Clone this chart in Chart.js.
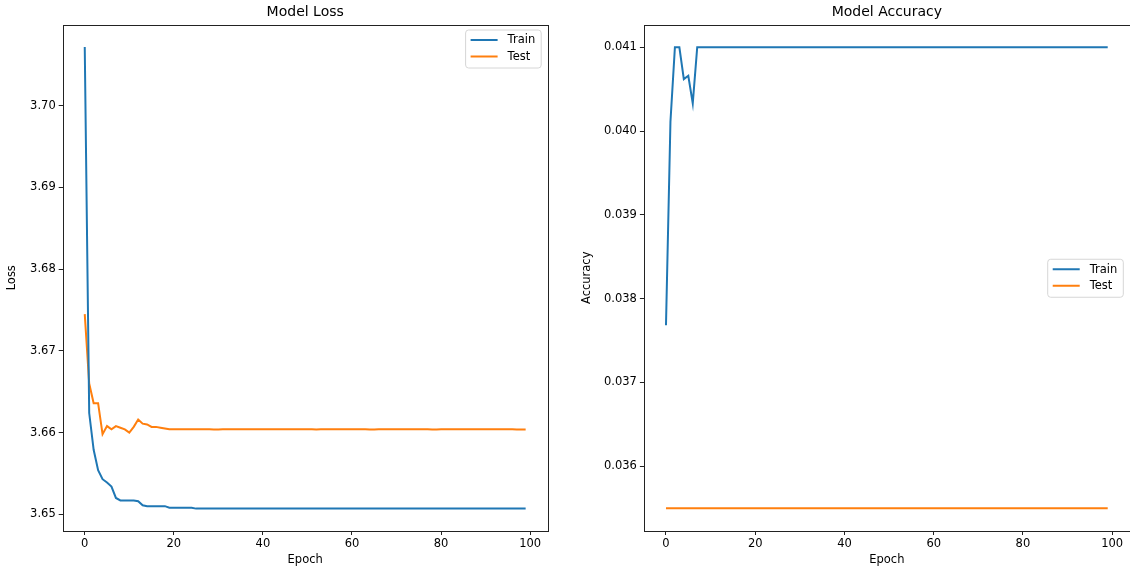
<!DOCTYPE html>
<html><head><meta charset="utf-8">
<script src="https://cdn.jsdelivr.net/npm/chart.js@4/dist/chart.umd.min.js"></script>
<style>
html,body{margin:0;padding:0;background:#fff;overflow:hidden;width:1130px;height:567px;position:relative;}
.box{position:absolute;top:0;height:567px;}
#b1{left:0;width:565px;}
#b2{left:565px;width:580px;}
</style></head><body>
<div class="box" id="b1"><canvas id="c1"></canvas></div>
<div class="box" id="b2"><canvas id="c2"></canvas></div>
<script>
const epochs = [0,1,2,3,4,5,6,7,8,9,10,11,12,13,14,15,16,17,18,19,20,21,22,23,24,25,26,27,28,29,30,31,32,33,34,35,36,37,38,39,40,41,42,43,44,45,46,47,48,49,50,51,52,53,54,55,56,57,58,59,60,61,62,63,64,65,66,67,68,69,70,71,72,73,74,75,76,77,78,79,80,81,82,83,84,85,86,87,88,89,90,91,92,93,94,95,96,97,98,99];
const xTicks = [0,20,40,60,80,100];
const lossTicks = [3.65,3.66,3.67,3.68,3.69,3.70];
const accTicks = [0.036,0.037,0.038,0.039,0.040,0.041];
const seriesNames = ['Train','Test'];
const trainLoss = [3.7072,3.6624,3.6579,3.6554,3.6543,3.6539,3.6534,3.6520,3.6517,3.6517,
 3.6517,3.6517,3.6516,3.6511,3.6510,3.6510,3.6510,3.6510,3.6510,3.6508,
 3.6508,3.6508,3.6508,3.6508,3.6508,3.6507,3.6507,3.6507,3.6507,3.6507,
 3.6507,3.6507,3.6507,3.6507,3.6507,3.6507,3.6507,3.6507,3.6507,3.6507,
 3.6507,3.6507,3.6507,3.6507,3.6507,3.6507,3.6507,3.6507,3.6507,3.6507,
 3.6507,3.6507,3.6507,3.6507,3.6507,3.6507,3.6507,3.6507,3.6507,3.6507,
 3.6507,3.6507,3.6507,3.6507,3.6507,3.6507,3.6507,3.6507,3.6507,3.6507,
 3.6507,3.6507,3.6507,3.6507,3.6507,3.6507,3.6507,3.6507,3.6507,3.6507,
 3.6507,3.6507,3.6507,3.6507,3.6507,3.6507,3.6507,3.6507,3.6507,3.6507,
 3.6507,3.6507,3.6507,3.6507,3.6507,3.6507,3.6507,3.6507,3.6507,3.6507];
const testLoss = [3.6745,3.6660,3.6636,3.6636,3.6598,3.6608,3.6604,3.6608,3.6606,3.6604,
 3.6600,3.6607,3.6616,3.6611,3.6610,3.6607,3.6607,3.6606,3.6605,3.6604,
 3.6604,3.6604,3.6604,3.6604,3.6604,3.6604,3.6604,3.6604,3.6604,3.66037,
 3.66037,3.6604,3.6604,3.6604,3.6604,3.6604,3.6604,3.6604,3.6604,3.6604,
 3.6604,3.6604,3.6604,3.6604,3.6604,3.6604,3.6604,3.6604,3.6604,3.6604,
 3.6604,3.6604,3.66037,3.6604,3.6604,3.6604,3.6604,3.6604,3.6604,3.6604,
 3.6604,3.6604,3.6604,3.6604,3.66037,3.66037,3.6604,3.6604,3.6604,3.6604,
 3.6604,3.6604,3.6604,3.6604,3.6604,3.6604,3.6604,3.6604,3.66037,3.66037,
 3.6604,3.6604,3.6604,3.6604,3.6604,3.6604,3.6604,3.6604,3.6604,3.6604,
 3.6604,3.6604,3.6604,3.6604,3.6604,3.6604,3.6604,3.66037,3.66037,3.66037];
const trainAcc = [0.03768,0.04011,0.04100,0.04100,0.04062,0.04066,0.04033,0.04100,0.04100,0.04100,
 0.04100,0.04100,0.04100,0.04100,0.04100,0.04100,0.04100,0.04100,0.04100,0.04100,
 0.04100,0.04100,0.04100,0.04100,0.04100,0.04100,0.04100,0.04100,0.04100,0.04100,
 0.04100,0.04100,0.04100,0.04100,0.04100,0.04100,0.04100,0.04100,0.04100,0.04100,
 0.04100,0.04100,0.04100,0.04100,0.04100,0.04100,0.04100,0.04100,0.04100,0.04100,
 0.04100,0.04100,0.04100,0.04100,0.04100,0.04100,0.04100,0.04100,0.04100,0.04100,
 0.04100,0.04100,0.04100,0.04100,0.04100,0.04100,0.04100,0.04100,0.04100,0.04100,
 0.04100,0.04100,0.04100,0.04100,0.04100,0.04100,0.04100,0.04100,0.04100,0.04100,
 0.04100,0.04100,0.04100,0.04100,0.04100,0.04100,0.04100,0.04100,0.04100,0.04100,
 0.04100,0.04100,0.04100,0.04100,0.04100,0.04100,0.04100,0.04100,0.04100,0.04100];
const testAcc = [0.035495,0.035495,0.035495,0.035495,0.035495,0.035495,0.035495,0.035495,0.035495,0.035495,
 0.035495,0.035495,0.035495,0.035495,0.035495,0.035495,0.035495,0.035495,0.035495,0.035495,
 0.035495,0.035495,0.035495,0.035495,0.035495,0.035495,0.035495,0.035495,0.035495,0.035495,
 0.035495,0.035495,0.035495,0.035495,0.035495,0.035495,0.035495,0.035495,0.035495,0.035495,
 0.035495,0.035495,0.035495,0.035495,0.035495,0.035495,0.035495,0.035495,0.035495,0.035495,
 0.035495,0.035495,0.035495,0.035495,0.035495,0.035495,0.035495,0.035495,0.035495,0.035495,
 0.035495,0.035495,0.035495,0.035495,0.035495,0.035495,0.035495,0.035495,0.035495,0.035495,
 0.035495,0.035495,0.035495,0.035495,0.035495,0.035495,0.035495,0.035495,0.035495,0.035495,
 0.035495,0.035495,0.035495,0.035495,0.035495,0.035495,0.035495,0.035495,0.035495,0.035495,
 0.035495,0.035495,0.035495,0.035495,0.035495,0.035495,0.035495,0.035495,0.035495,0.035495];

const BLUE = '#1f77b4', ORANGE = '#ff7f0e';
const FAM = '"DejaVu Sans", sans-serif';
const TICK_FS = 11.5, LABEL_FS = 11.5, TITLE_FS = 14;

const mplPlugin = {
  id: 'mpl',
  afterDatasetsDraw(chart) {
    const ctx = chart.ctx, a = chart.chartArea;
    const o = chart.options.plugins.mpl;
    ctx.save();
    // axes frame
    ctx.strokeStyle = '#222'; ctx.lineWidth = 1;
    ctx.strokeRect(Math.round(a.left) + 0.5, Math.round(a.top) + 0.5,
      Math.round(a.right) - Math.round(a.left), Math.round(a.bottom) - Math.round(a.top));
    // title centred over the axes
    ctx.font = TITLE_FS + 'px ' + FAM;
    ctx.fillStyle = '#000'; ctx.textAlign = 'center'; ctx.textBaseline = 'middle';
    ctx.fillText(o.title, (a.left + a.right) / 2, 12.5);
    // legend
    ctx.font = LABEL_FS + 'px ' + FAM;
    const ds = chart.data.datasets;
    const tw = Math.max(...ds.map(d => ctx.measureText(d.label).width));
    const padL = 5, lineLen = 27, gap = 10, padR = 6;
    const w = padL + lineLen + gap + tw + padR, h = 38;
    const x = a.right - 6.5 - w;
    const y = o.loc === 'center' ? (a.top + a.bottom) / 2 - h / 2 + 0.5 : a.top + 5.5;
    ctx.beginPath();
    if (ctx.roundRect) ctx.roundRect(x, y, w, h, 3); else ctx.rect(x, y, w, h);
    ctx.fillStyle = 'rgba(255,255,255,0.8)'; ctx.fill();
    ctx.strokeStyle = '#d6d6d6'; ctx.lineWidth = 1; ctx.stroke();
    ds.forEach((d, i) => {
      const cy = y + 10 + i * 16.5;
      ctx.strokeStyle = d.borderColor; ctx.lineWidth = 2;
      ctx.beginPath(); ctx.moveTo(x + padL, cy); ctx.lineTo(x + padL + lineLen, cy); ctx.stroke();
      ctx.fillStyle = '#000'; ctx.textBaseline = 'middle'; ctx.textAlign = 'left';
      ctx.fillText(d.label, x + padL + lineLen + gap, cy + 0.5);
    });
    ctx.restore();
  }
};

function makeChart(id, cfg) {
  const pts = arr => arr.map((v, i) => ({x: epochs[i], y: v}));
  return new Chart(document.getElementById(id), {
    type: 'line',
    data: {
      datasets: [
        {label: seriesNames[0], data: pts(cfg.train), borderColor: BLUE, backgroundColor: BLUE, borderWidth: 2, pointRadius: 0, tension: 0},
        {label: seriesNames[1], data: pts(cfg.test), borderColor: ORANGE, backgroundColor: ORANGE, borderWidth: 2, pointRadius: 0, tension: 0}
      ]
    },
    options: {
      responsive: true, maintainAspectRatio: false, animation: false, devicePixelRatio: 1,
      layout: {padding: {left: 0, right: cfg.padRight, top: 24.5, bottom: 0}},
      plugins: {
        legend: {display: false}, tooltip: {enabled: false}, title: {display: false},
        mpl: {loc: cfg.loc, title: cfg.title}
      },
      scales: {
        x: {
          type: 'linear', min: -4.95, max: 103.95,
          afterBuildTicks: s => { s.ticks = xTicks.map(v => ({value: v})); },
          afterFit: s => { s.height = 36; },
          ticks: {color: '#000', font: {family: FAM, size: TICK_FS}, padding: 2, maxRotation: 0, autoSkip: false, callback: v => String(v)},
          grid: {display: true, drawOnChartArea: false, drawTicks: true, tickLength: 4, color: '#222', lineWidth: 1},
          border: {display: false},
          title: {display: true, text: 'Epoch', color: '#000', font: {family: FAM, size: LABEL_FS}, padding: {top: 0, bottom: 0.5}}
        },
        y: {
          type: 'linear', min: cfg.yMin, max: cfg.yMax,
          afterBuildTicks: s => { s.ticks = cfg.yTicks.map(v => ({value: v})); },
          afterFit: s => { s.width = cfg.yWidth; },
          ticks: {color: '#000', font: {family: FAM, size: TICK_FS}, padding: 3, autoSkip: false, callback: v => v.toFixed(cfg.dec)},
          grid: {display: true, drawOnChartArea: false, drawTicks: true, tickLength: 4, color: '#222', lineWidth: 1},
          border: {display: false},
          title: {display: true, text: cfg.yLabel, color: '#000', font: {family: FAM, size: LABEL_FS}, padding: {top: cfg.yTitlePad, bottom: 0}}
        }
      }
    },
    plugins: [mplPlugin]
  });
}

makeChart('c1', {title: 'Model Loss', yLabel: 'Loss', train: trainLoss, test: testLoss,
  yMin: 3.64796, yMax: 3.70994, yTicks: lossTicks, dec: 2, yWidth: 62.7, yTitlePad: 4.7, padRight: 17.3, loc: 'upper'});
makeChart('c2', {title: 'Model Accuracy', yLabel: 'Accuracy', train: trainAcc, test: testAcc,
  yMin: 0.035224, yMax: 0.041272, yTicks: accTicks, dec: 3, yWidth: 78.9, yTitlePad: 15.4, padRight: 15.2, loc: 'center'});
</script>
</body></html>
